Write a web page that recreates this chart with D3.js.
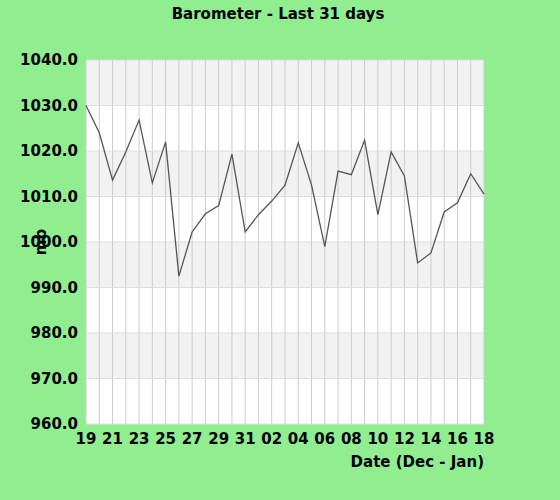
<!DOCTYPE html>
<html><head><meta charset="utf-8">
<script src="https://cdn.jsdelivr.net/npm/d3@7"></script>
<style>body{margin:0;background:#90ee90}</style>
</head><body>
<svg id="c" width="560" height="500"></svg>
<script>
const days = ["19","20","21","22","23","24","25","26","27","28","29","30","31","01","02","03","04","05","06","07","08","09","10","11","12","13","14","15","16","17","18"];
const pressure = [1030,1024,1013.6,1019.8,1026.8,1013,1022,992.5,1002.2,1006.2,1008,1019.3,1002.2,1006,1009,1012.5,1021.8,1012.5,999,1015.6,1014.8,1022.4,1006,1019.8,1014.5,995.4,997.6,1006.6,1008.6,1015,1010.5];
const yTicks = [960,970,980,990,1000,1010,1020,1030,1040];

const svg = d3.select("#c");
const m = {l:86, r:484, t:60, b:424};
const x = d3.scalePoint().domain(days.map((d,i)=>i)).range([m.l,m.r]);
const y = d3.scaleLinear().domain([960,1040]).range([m.b,m.t]);

// bands
svg.selectAll(".band").data(yTicks.slice(0,-1)).enter().append("rect")
  .attr("x",m.l).attr("width",m.r-m.l)
  .attr("y",d=>y(d+10)).attr("height",d=>y(d)-y(d+10))
  .attr("fill",(d,i)=>i%2? "#f2f2f2":"#ffffff");
// vertical grid
svg.selectAll(".vg").data(days.map((d,i)=>i)).enter().append("line")
  .attr("x1",d=>x(d)).attr("x2",d=>x(d)).attr("y1",m.t).attr("y2",m.b)
  .attr("stroke","#cccccc").attr("stroke-width",1);
svg.selectAll(".hg").data(yTicks).enter().append("line")
  .attr("x1",m.l).attr("x2",m.r).attr("y1",d=>y(d)).attr("y2",d=>y(d))
  .attr("stroke","#dddddd");

svg.append("path").datum(pressure)
  .attr("d",d3.line().x((d,i)=>x(i)).y(d=>y(d)))
  .attr("fill","none").attr("stroke","#555555").attr("stroke-width",1.3);

const font = "DejaVu Sans";
svg.selectAll(".yl").data(yTicks).enter().append("text")
  .attr("x",78).attr("y",d=>y(d)+5).attr("text-anchor","end")
  .attr("font-family",font).attr("font-weight","bold").attr("font-size",15)
  .text(d=>d.toFixed(1));
svg.selectAll(".xl").data(days.map((d,i)=>i).filter(i=>i%2===0)).enter().append("text")
  .attr("x",d=>x(d)).attr("y",444).attr("text-anchor","middle")
  .attr("font-family",font).attr("font-weight","bold").attr("font-size",15)
  .text(d=>days[d]);
svg.append("text").attr("x",484).attr("y",467).attr("text-anchor","end")
  .attr("font-family",font).attr("font-weight","bold").attr("font-size",15)
  .text("Date (Dec - Jan)");
svg.append("text").attr("transform","translate(46,242) rotate(-90)").attr("text-anchor","middle")
  .attr("font-family",font).attr("font-weight","bold").attr("font-size",15)
  .text("mb");
svg.append("text").attr("x",278).attr("y",19).attr("text-anchor","middle")
  .attr("font-family",font).attr("font-weight","bold").attr("font-size",15)
  .text("Barometer - Last 31 days");
</script>
</body></html>
